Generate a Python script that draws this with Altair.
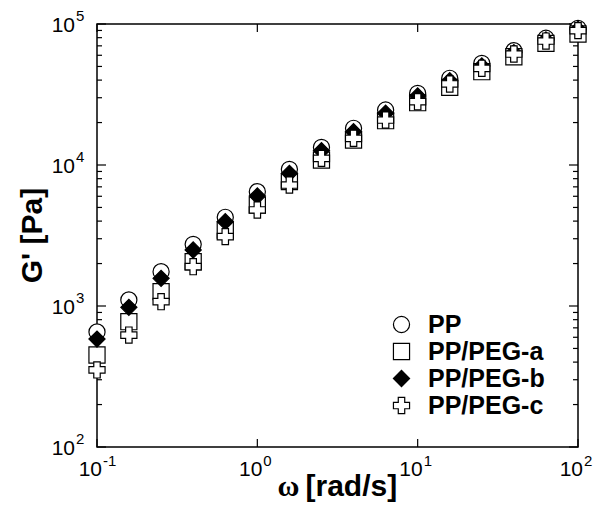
import altair as alt
import pandas as pd

# ---- data ----
omega = [0.1, 0.158, 0.251, 0.398, 0.631, 1.0, 1.585, 2.512, 3.981, 6.31,
         10.0, 15.85, 25.12, 39.81, 63.1, 100.0]
g_pp = [655, 1103, 1750, 2737, 4256, 6471, 9311, 13340, 18200, 24550,
        32220, 41200, 52600, 64700, 79200, 93100]
g_peg_a = [449, 774, 1264, 2061, 3459, 5200, 7620, 10840, 15030, 20620,
           27660, 35560, 45900, 58600, 72900, 84900]
g_peg_b = [583, 979, 1571, 2496, 3963, 6026, 8730, 12640, 17220, 23270,
           30850, 39600, 50350, 62630, 77000, 91700]
g_peg_c = [352, 622, 1073, 1900, 3103, 4797, 7213, 11140, 15460, 20840,
           28120, 37560, 48500, 61240, 75700, 89700]
series_names = ["PP", "PP/PEG-a", "PP/PEG-b", "PP/PEG-c"]

x_major = [0.1, 1, 10, 100]
x_exp = ["-1", "0", "1", "2"]
y_major = [100, 1000, 10000, 100000]
y_exp = ["2", "3", "4", "5"]
y_minor = [m * 10 ** e for e in (2, 3, 4) for m in range(2, 10)]

rows = []
for name, vals in zip(series_names, [g_pp, g_peg_a, g_peg_b, g_peg_c]):
    for w, g in zip(omega, vals):
        rows.append({"series": name, "omega": w, "G": g})
df = pd.DataFrame(rows)

W, H = 481, 423
FONT = "Liberation Sans"
xs = alt.Scale(type="log", domain=[0.1, 100], nice=False)
ys = alt.Scale(type="log", domain=[100, 100000], nice=False)

legend = alt.Legend(
    title=None, orient="none", legendX=292, legendY=288, padding=0,
    labelFont=FONT, labelFontSize=25, labelFontWeight="bold", labelColor="black",
    labelOffset=14, rowPadding=1, labelLimit=0,
    symbolSize=260, symbolStrokeWidth=1.2, symbolOpacity=1,
)

points = alt.Chart(df).mark_point(
    filled=True, strokeWidth=1.2, size=260, opacity=1
).encode(
    x=alt.X("omega:Q", scale=xs, axis=None),
    y=alt.Y("G:Q", scale=ys, axis=None),
    shape=alt.Shape("series:N", scale=alt.Scale(domain=series_names,
                    range=["circle", "square", "diamond", "cross"]), legend=legend),
    fill=alt.Fill("series:N", scale=alt.Scale(domain=series_names,
                  range=["white", "white", "black", "white"]), legend=legend),
    stroke=alt.Stroke("series:N", scale=alt.Scale(domain=series_names,
                      range=["black", "black", "black", "black"]), legend=legend),
)

xmaj = pd.DataFrame({"v": x_major, "e": x_exp})
ymaj = pd.DataFrame({"v": y_major, "e": y_exp})
ymin = pd.DataFrame({"v": y_minor})

def yticks(data, x0, x1):
    return alt.Chart(data).mark_rule(color="black", strokeWidth=1.2).encode(
        y=alt.Y("v:Q", scale=ys, axis=None), x=alt.value(x0), x2=alt.value(x1))

def xticks(data, y0, y1):
    return alt.Chart(data).mark_rule(color="black", strokeWidth=1.2).encode(
        x=alt.X("v:Q", scale=xs, axis=None), y=alt.value(y0), y2=alt.value(y1))

ticks = [
    yticks(ymaj, 0, 9), yticks(ymaj, W, W - 9),
    yticks(ymin, 0, 5), yticks(ymin, W, W - 5),
    xticks(xmaj, H, H - 8), xticks(xmaj, 0, 8),
]

xlab_base = alt.Chart(xmaj).mark_text(
    align="right", baseline="alphabetic", dx=5, font=FONT, fontSize=21, color="black"
).encode(x=alt.X("v:Q", scale=xs, axis=None), y=alt.value(H + 29), text=alt.value("10"))
xlab_exp = alt.Chart(xmaj).mark_text(
    align="left", baseline="alphabetic", dx=6, font=FONT, fontSize=15, color="black"
).encode(x=alt.X("v:Q", scale=xs, axis=None), y=alt.value(H + 19), text="e:N")

ylab_base = alt.Chart(ymaj).mark_text(
    align="right", baseline="middle", dy=2, font=FONT, fontSize=21, color="black"
).encode(y=alt.Y("v:Q", scale=ys, axis=None), x=alt.value(-22), text=alt.value("10"))
ylab_exp = alt.Chart(ymaj).mark_text(
    align="left", baseline="middle", dy=-8, font=FONT, fontSize=15, color="black"
).encode(y=alt.Y("v:Q", scale=ys, axis=None), x=alt.value(-21), text="e:N")

one = pd.DataFrame({"k": [0]})
ytitle = alt.Chart(one).mark_text(
    angle=270, align="center", baseline="alphabetic", font=FONT, fontSize=30,
    fontWeight="bold", color="black"
).encode(x=alt.value(-55), y=alt.value(H / 2), text=alt.value("G' [Pa]"))
xtitle_w = alt.Chart(one).mark_text(
    align="right", baseline="alphabetic", font="Liberation Serif", fontSize=30,
    fontWeight="bold", color="black"
).encode(x=alt.value(W / 2 - 38), y=alt.value(H + 49), text=alt.value("ω"))
xtitle_r = alt.Chart(one).mark_text(
    align="left", baseline="alphabetic", font=FONT, fontSize=30,
    fontWeight="bold", color="black"
).encode(x=alt.value(W / 2 - 32), y=alt.value(H + 49), text=alt.value("[rad/s]"))

chart = alt.layer(
    *ticks, xlab_base, xlab_exp, ylab_base, ylab_exp, ytitle, xtitle_w, xtitle_r, points
).properties(
    width=W, height=H,
    autosize=alt.AutoSizeParams(type="none"),
    padding={"left": 89, "top": 16, "right": 18, "bottom": 58},
    background="white",
).configure_view(stroke="black", strokeWidth=1.5)

chart.save("out.html", embed_options={"renderer": "svg", "actions": False})
